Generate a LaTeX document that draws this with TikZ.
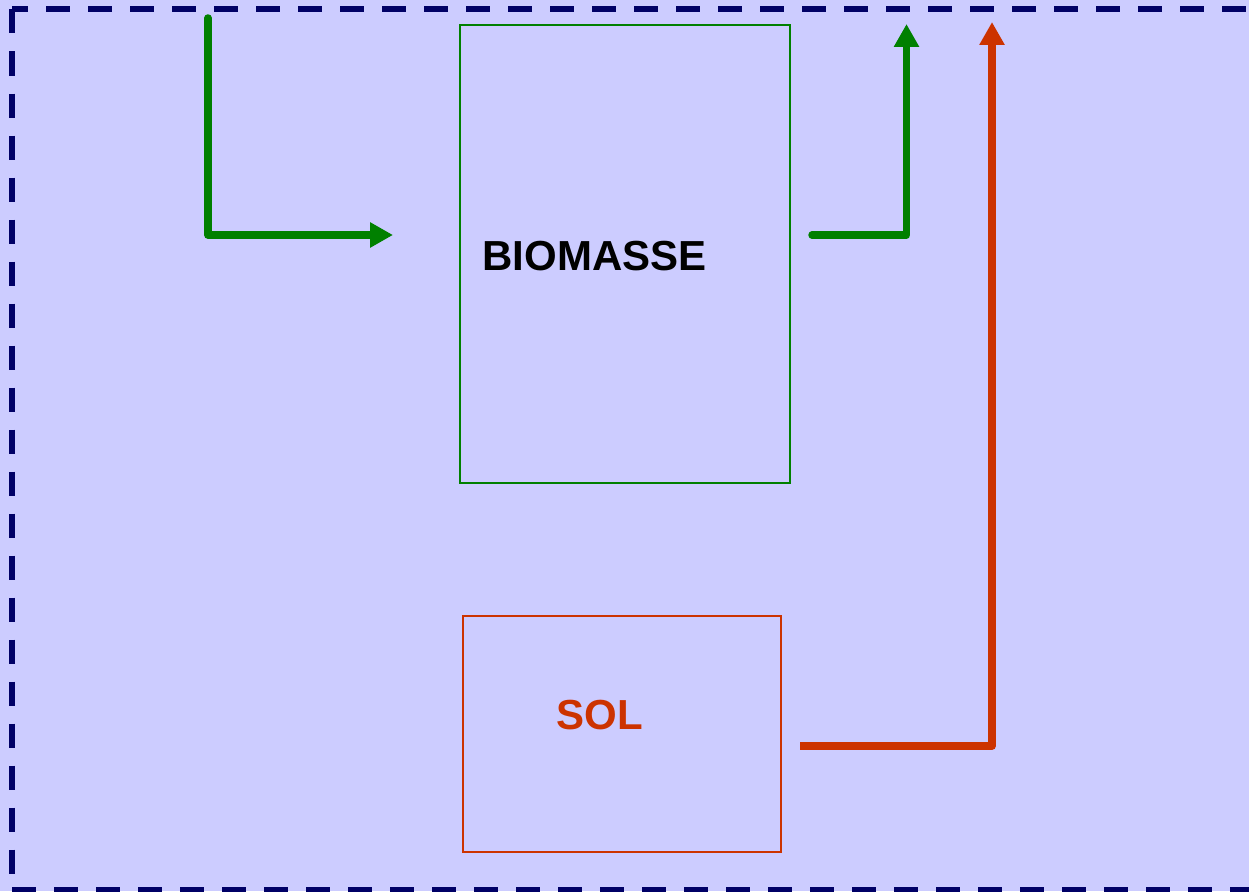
\documentclass[tikz,border=0pt]{standalone}
\usepackage{fontspec}
\setmainfont{Liberation Sans}
\usetikzlibrary{arrows.meta,positioning}
\definecolor{fond}{HTML}{CCCCFF}
\definecolor{cadre}{HTML}{000066}
\definecolor{vert}{HTML}{008000}
\definecolor{rouge}{HTML}{CC3300}

\begin{document}
\begin{tikzpicture}[x=1pt, y=-1pt, >={Triangle[length=23pt,width=24pt]},
    flux/.style={line width=7.5pt, line join=round},
    boite/.style={draw, line width=1.5pt, inner sep=0pt, outer sep=0pt, anchor=north west},
    titre/.style={anchor=base, inner sep=0pt, font=\bfseries\fontsize{42}{42}\selectfont},
    bord/.style={cadre, line width=6pt, dash pattern=on 24pt off 18pt}]
    \useasboundingbox (0,0) rectangle (1249,891);
    \fill[fond] (0,0) rectangle (1249,891);

    % Dashed frame
    \coordinate (HG) at (12,9.5);
    \coordinate (HD) at (1249,9.5);
    \coordinate (BG) at (12,890);
    \coordinate (BD) at (1249,890);
    \draw[bord, dash phase=8pt] (HG) -- (HD);
    \draw[bord] (HG) -- (BG);
    \draw[bord] (BG) -- (BD);

    % Boxes
    \node[boite, vert, minimum width=330pt, minimum height=458pt] (biomasse) at (460,25) {};
    \node[boite, rouge, minimum width=318pt, minimum height=236pt] (sol) at (463,616) {};

    % Labels
    \node[titre] (biomasselabel) at (594.5,270) {BIOMASSE};
    \node[titre, rouge] (sollabel) at (599.5,729) {SOL};

    % Flows
    \coordinate (entree) at (208,18);
    \coordinate (coude1) at (208,235);
    \coordinate (fin1) at (393,235);
    \draw[flux, vert, ->, line cap=round] (entree) -- (coude1) -- (fin1);

    \coordinate (depart2) at (812,235);
    \coordinate (coude2) at (906.5,235);
    \coordinate (fin2) at (906.5,24);
    \draw[flux, vert, ->, line cap=round] (depart2) -- (coude2) -- (fin2);

    \coordinate (depart3) at (800,746);
    \coordinate (coude3) at (992,746);
    \coordinate (fin3) at (992,22);
    \draw[flux, rouge, ->] (depart3) -- (coude3) -- (fin3);
\end{tikzpicture}
\end{document}
